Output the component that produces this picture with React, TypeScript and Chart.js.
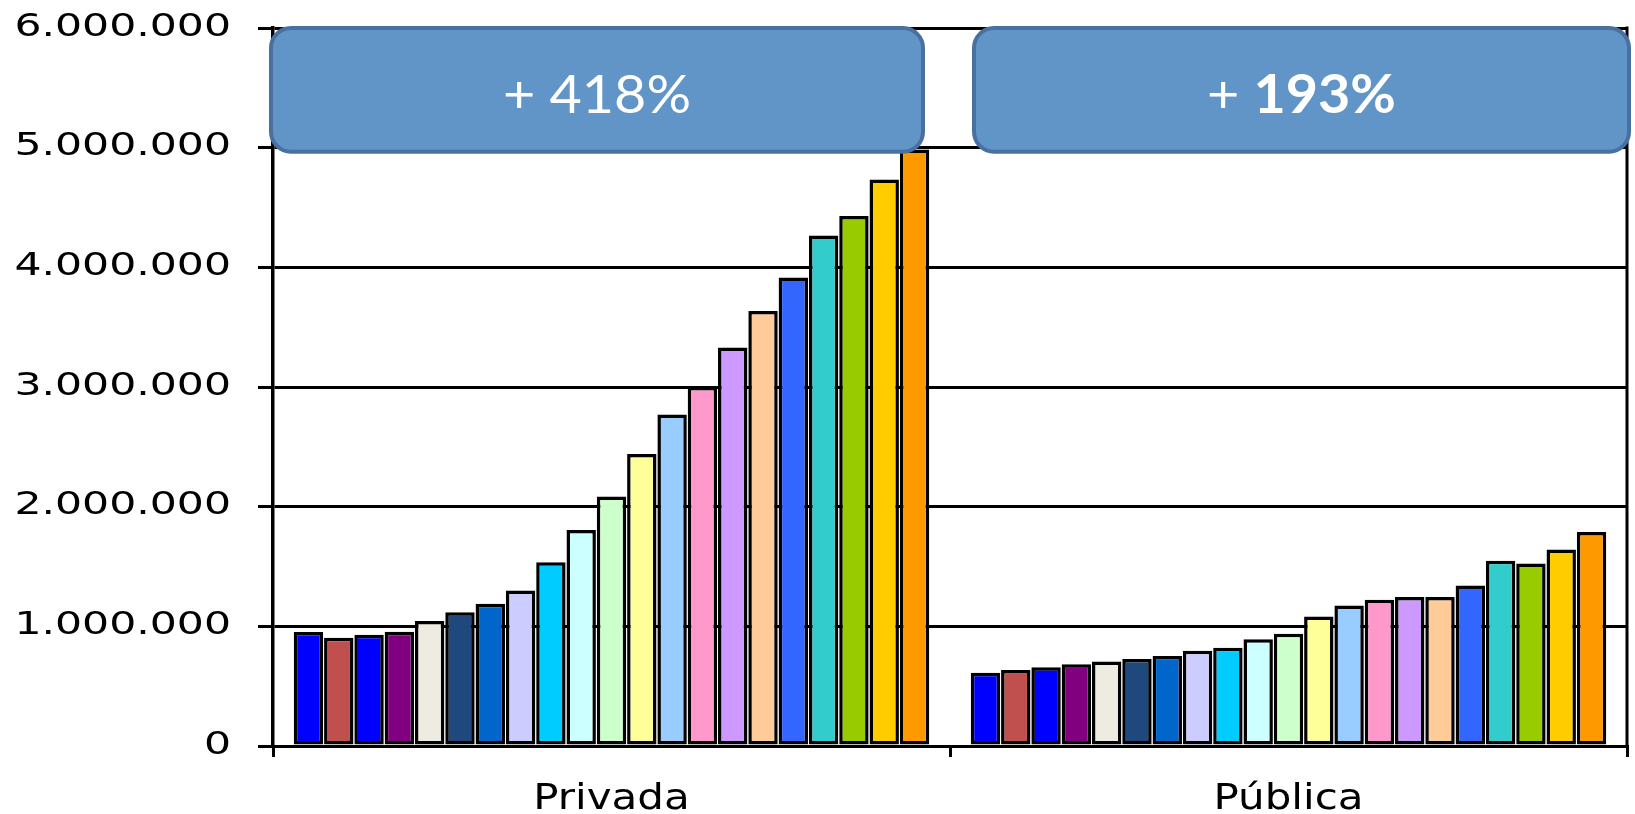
import React, { useEffect, useRef } from "react";
import { Chart, registerables } from "chart.js";

Chart.register(...registerables);

const CATEGORIES = ["Privada", "Pública"];

const SERIES_LABELS = [
  "Serie 1", "Serie 2", "Serie 3", "Serie 4", "Serie 5", "Serie 6", "Serie 7",
  "Serie 8", "Serie 9", "Serie 10", "Serie 11", "Serie 12", "Serie 13", "Serie 14",
  "Serie 15", "Serie 16", "Serie 17", "Serie 18", "Serie 19", "Serie 20", "Serie 21",
];

const PRIVADA = [
  952000, 905000, 930000, 955000, 1045000, 1118000, 1188000, 1300000, 1535000,
  1805000, 2085000, 2440000, 2770000, 3000000, 3330000, 3635000, 3915000,
  4265000, 4430000, 4735000, 4985000,
];

const PUBLICA = [
  612000, 635000, 658000, 683000, 706000, 728000, 753000, 797000, 820000,
  893000, 938000, 1082000, 1174000, 1222000, 1246000, 1246000, 1341000,
  1549000, 1526000, 1643000, 1789000,
];

const SERIES_COLORS = [
  "#0000FF", "#C0504D", "#0000FF", "#800080", "#EEECE1", "#1F497D", "#0066CC",
  "#CCCCFF", "#00CCFF", "#CCFFFF", "#CCFFCC", "#FFFF99", "#99CCFF", "#FF99CC",
  "#CC99FF", "#FFCC99", "#3366FF", "#33CCCC", "#99CC00", "#FFCC00", "#FF9900",
];

const Y_TICKS = [0, 1000000, 2000000, 3000000, 4000000, 5000000, 6000000];
const Y_TICK_LABELS = [
  "0", "1.000.000", "2.000.000", "3.000.000", "4.000.000", "5.000.000", "6.000.000",
];

const ANNOTATION_PREFIX = ["+ ", "+ "];
const ANNOTATION_VALUES = ["418%", "193%"];
const ANNOTATION_BOLD = [false, true];

const overlayPlugin = {
  id: "overlay",
  afterDraw(chart: any) {
    const ctx: CanvasRenderingContext2D = chart.ctx;
    const { left, right, top, bottom } = chart.chartArea;
    const xs = chart.scales.x;
    const ys = chart.scales.y;

    // right border of plot
    ctx.save();
    ctx.strokeStyle = "#000";
    ctx.lineWidth = 3;
    ctx.beginPath();
    ctx.moveTo(right, top - 1.5);
    ctx.lineTo(right, bottom);
    ctx.stroke();
    ctx.restore();

    // y tick labels (stretched Verdana-like)
    Y_TICKS.forEach((v, i) => {
      const yp = ys.getPixelForValue(v);
      ctx.save();
      ctx.fillStyle = "#000";
      ctx.font = '32px "DejaVu Sans"';
      ctx.textAlign = "right";
      ctx.textBaseline = "alphabetic";
      ctx.translate(left - 42, yp + 7.5);
      ctx.scale(1.33, 1);
      ctx.fillText(Y_TICK_LABELS[i], 0, 0);
      ctx.restore();
    });

    // category labels
    CATEGORIES.forEach((c, i) => {
      const xp = xs.getPixelForValue(i);
      ctx.save();
      ctx.fillStyle = "#000";
      ctx.font = '35px "DejaVu Sans"';
      ctx.textAlign = "center";
      ctx.textBaseline = "alphabetic";
      ctx.translate(xp, bottom + 63);
      ctx.scale(1.2, 1);
      ctx.fillText(c, 0, 0);
      ctx.restore();
    });

    // annotation boxes
    const catW = (right - left) / CATEGORIES.length;
    const boxTop = ys.getPixelForValue(6000000);
    const boxBottom = ys.getPixelForValue(5000000) + 4;
    const offL = [-2, 24];
    const offR = [-27, 2];
    CATEGORIES.forEach((_, i) => {
      const bl = left + catW * i + offL[i];
      const br = left + catW * (i + 1) + offR[i];
      ctx.save();
      ctx.beginPath();
      (ctx as any).roundRect(bl, boxTop, br - bl, boxBottom - boxTop, 20);
      ctx.fillStyle = "#6195C8";
      ctx.fill();
      ctx.lineWidth = 4;
      ctx.strokeStyle = "#48719F";
      ctx.stroke();

      const cx = (bl + br) / 2;
      const baseY = boxTop + 85;
      const fontReg = "53px Lato";
      const fontVal = ANNOTATION_BOLD[i] ? "bold 53px Lato" : "53px Lato";
      ctx.font = fontReg;
      const w1 = ctx.measureText(ANNOTATION_PREFIX[i]).width;
      ctx.font = fontVal;
      const w2 = ctx.measureText(ANNOTATION_VALUES[i]).width;
      const sx = 1.05;
      const total = (w1 + w2) * sx;
      ctx.translate(cx - total / 2, baseY);
      ctx.scale(sx, 1);
      ctx.fillStyle = "#FFFFFF";
      ctx.textAlign = "left";
      ctx.textBaseline = "alphabetic";
      ctx.font = fontReg;
      ctx.fillText(ANNOTATION_PREFIX[i], 0, 0);
      ctx.font = fontVal;
      ctx.fillText(ANNOTATION_VALUES[i], w1, 0);
      ctx.restore();
    });
  },
};

export default function App() {
  const canvasRef = useRef<HTMLCanvasElement | null>(null);

  useEffect(() => {
    if (!canvasRef.current) return;
    const chart = new Chart(canvasRef.current, {
      type: "bar",
      data: {
        labels: CATEGORIES,
        datasets: SERIES_COLORS.map((c, i) => ({
          label: SERIES_LABELS[i],
          data: [PRIVADA[i], PUBLICA[i]],
          backgroundColor: c,
          borderColor: "#000000",
          borderWidth: 3.5,
          borderSkipped: false,
          barPercentage: 0.97,
          categoryPercentage: 0.94,
        })),
      },
      options: {
        responsive: true,
        maintainAspectRatio: false,
        animation: false,
        layout: { padding: { left: 258, top: 28, right: 8, bottom: 57 } },
        plugins: {
          legend: { display: false },
          tooltip: { enabled: false },
        },
        scales: {
          x: {
            type: "category",
            offset: true,
            grid: {
              display: true,
              offset: true,
              drawOnChartArea: false,
              drawTicks: true,
              tickLength: 11,
              color: "#000",
              lineWidth: 3,
            },
            border: { display: true, color: "#000", width: 3 },
            ticks: { display: false },
          },
          y: {
            min: 0,
            max: 6000000,
            ticks: { display: false, stepSize: 1000000 },
            grid: {
              color: "#000",
              lineWidth: 3,
              drawTicks: true,
              tickLength: 15,
            },
            border: { display: true, color: "#000", width: 3.5 },
          },
        },
      },
      plugins: [overlayPlugin],
    });
    return () => chart.destroy();
  }, []);

  return (
    <div
      style={{
        position: "fixed",
        left: 0,
        top: 0,
        width: "1635px",
        height: "814px",
        background: "#fff",
      }}
    >
      <canvas ref={canvasRef} />
    </div>
  );
}
